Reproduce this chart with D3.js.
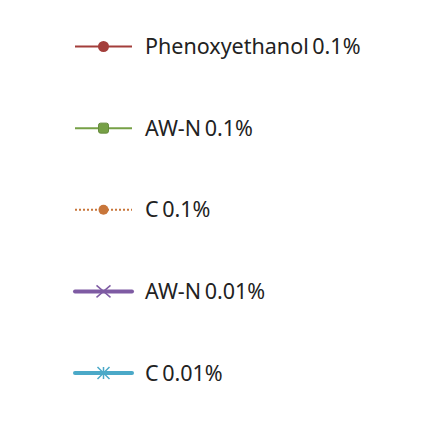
<!DOCTYPE html>
<html>
<head>
<meta charset="utf-8">
<script src="https://cdn.jsdelivr.net/npm/d3@7"></script>
<style>
  body { margin: 0; background: #fff; }
  text { font-family: "Source Sans Pro", "Noto Sans", sans-serif; }
</style>
</head>
<body>
<svg id="chart"></svg>
<script>
// legend entries
const seriesNames = ['Phenoxyethanol 0.1%', 'AW-N 0.1%', 'C 0.1%', 'AW-N 0.01%', 'C 0.01%'];
const seriesColors = ['#A33E3B', '#76A046', '#C8763A', '#7E5BA3', '#4BA9C8'];
const seriesMarkers = ['circle', 'square', 'dot', 'cross', 'asterisk'];
const seriesDash = ['', '', '2,2', '', ''];
const seriesWidth = [2, 2, 2, 4, 4];

const width = 442, height = 425;
const svg = d3.select('#chart').attr('width', width).attr('height', height);

const yScale = d3.scalePoint()
  .domain(seriesNames)
  .range([46.5, 373]);

const lineX0 = 75, lineX1 = 132, markX = 103.5;

const rows = svg.selectAll('g.row').data(seriesNames).enter()
  .append('g').attr('class', 'row')
  .attr('transform', d => 'translate(0,' + yScale(d) + ')');

rows.append('line')
  .attr('x1', lineX0).attr('x2', lineX1)
  .attr('y1', 0).attr('y2', 0)
  .attr('stroke', (d, i) => seriesColors[i])
  .attr('stroke-width', (d, i) => seriesWidth[i])
  .attr('stroke-linecap', (d, i) => seriesWidth[i] > 3 ? 'round' : 'butt')
  .attr('stroke-dasharray', (d, i) => seriesDash[i]);

rows.each(function(d, i) {
  const g = d3.select(this);
  const c = seriesColors[i];
  const m = seriesMarkers[i];
  if (m == 'circle') {
    g.append('circle').attr('cx', markX).attr('cy', 0).attr('r', 5.5).attr('fill', c);
  } else if (m == 'square') {
    g.append('rect').attr('x', markX - 5).attr('y', -5).attr('width', 10).attr('height', 10)
      .attr('rx', 2)
      .attr('fill', c).attr('stroke', d3.color(c).darker(0.4)).attr('stroke-width', 1);
  } else if (m == 'dot') {
    g.append('circle').attr('cx', markX).attr('cy', 0).attr('r', 5).attr('fill', c);
  } else if (m == 'cross') {
    g.append('path').attr('d', 'M' + (markX - 7) + ',-6L' + (markX + 7) + ',6M' + (markX - 7) + ',6L' + (markX + 7) + ',-6')
      .attr('stroke', c).attr('stroke-width', 1.5).attr('fill', 'none');
  } else {
    g.append('path').attr('d', 'M' + (markX - 6) + ',-6L' + (markX + 6) + ',6M' + (markX - 6) + ',6L' + (markX + 6) + ',-6M' + markX + ',-6L' + markX + ',6')
      .attr('stroke', c).attr('stroke-width', 1.5).attr('fill', 'none');
  }
});

rows.append('text')
  .attr('x', 145).attr('y', 0)
  .attr('dy', '0.35em')
  .attr('font-size', 21.5)
  .attr('fill', '#222')
  .text(d => d.replace(/ (?=\d)/, '\u2009'));
</script>
</body>
</html>
